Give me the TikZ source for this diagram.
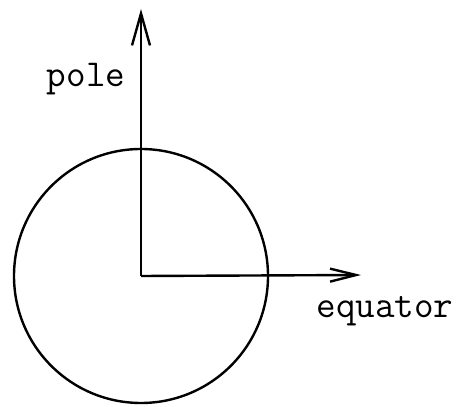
\documentclass[tikz,border=0pt]{standalone}
\usetikzlibrary{arrows.meta}
\tikzset{
  stroke/.style={line width=2.4pt, black},
  lbl/.style={font=\ttfamily\fontsize{38}{38}\selectfont, anchor=base, inner sep=0pt},
}
\begin{document}
\begin{tikzpicture}[x=1pt,y=1pt]
\useasboundingbox (0,0) rectangle (462,406);
\coordinate (c) at (141,130);
\coordinate (poletip) at (141,397);
\coordinate (eqtip) at (361,131);
\draw[stroke] (c) circle (127);
\draw[stroke, -{Straight Barb[length=32pt,width=18pt,line width=2.4pt]}] (c) -- (poletip);
\draw[stroke, -{Straight Barb[length=26pt,width=13pt,line width=2.4pt]}] (c) -- (eqtip);
\node[lbl] (pole) at (86,319) {pole};
\node[lbl] (equator) at (385,88) {equator};
\end{tikzpicture}
\end{document}
